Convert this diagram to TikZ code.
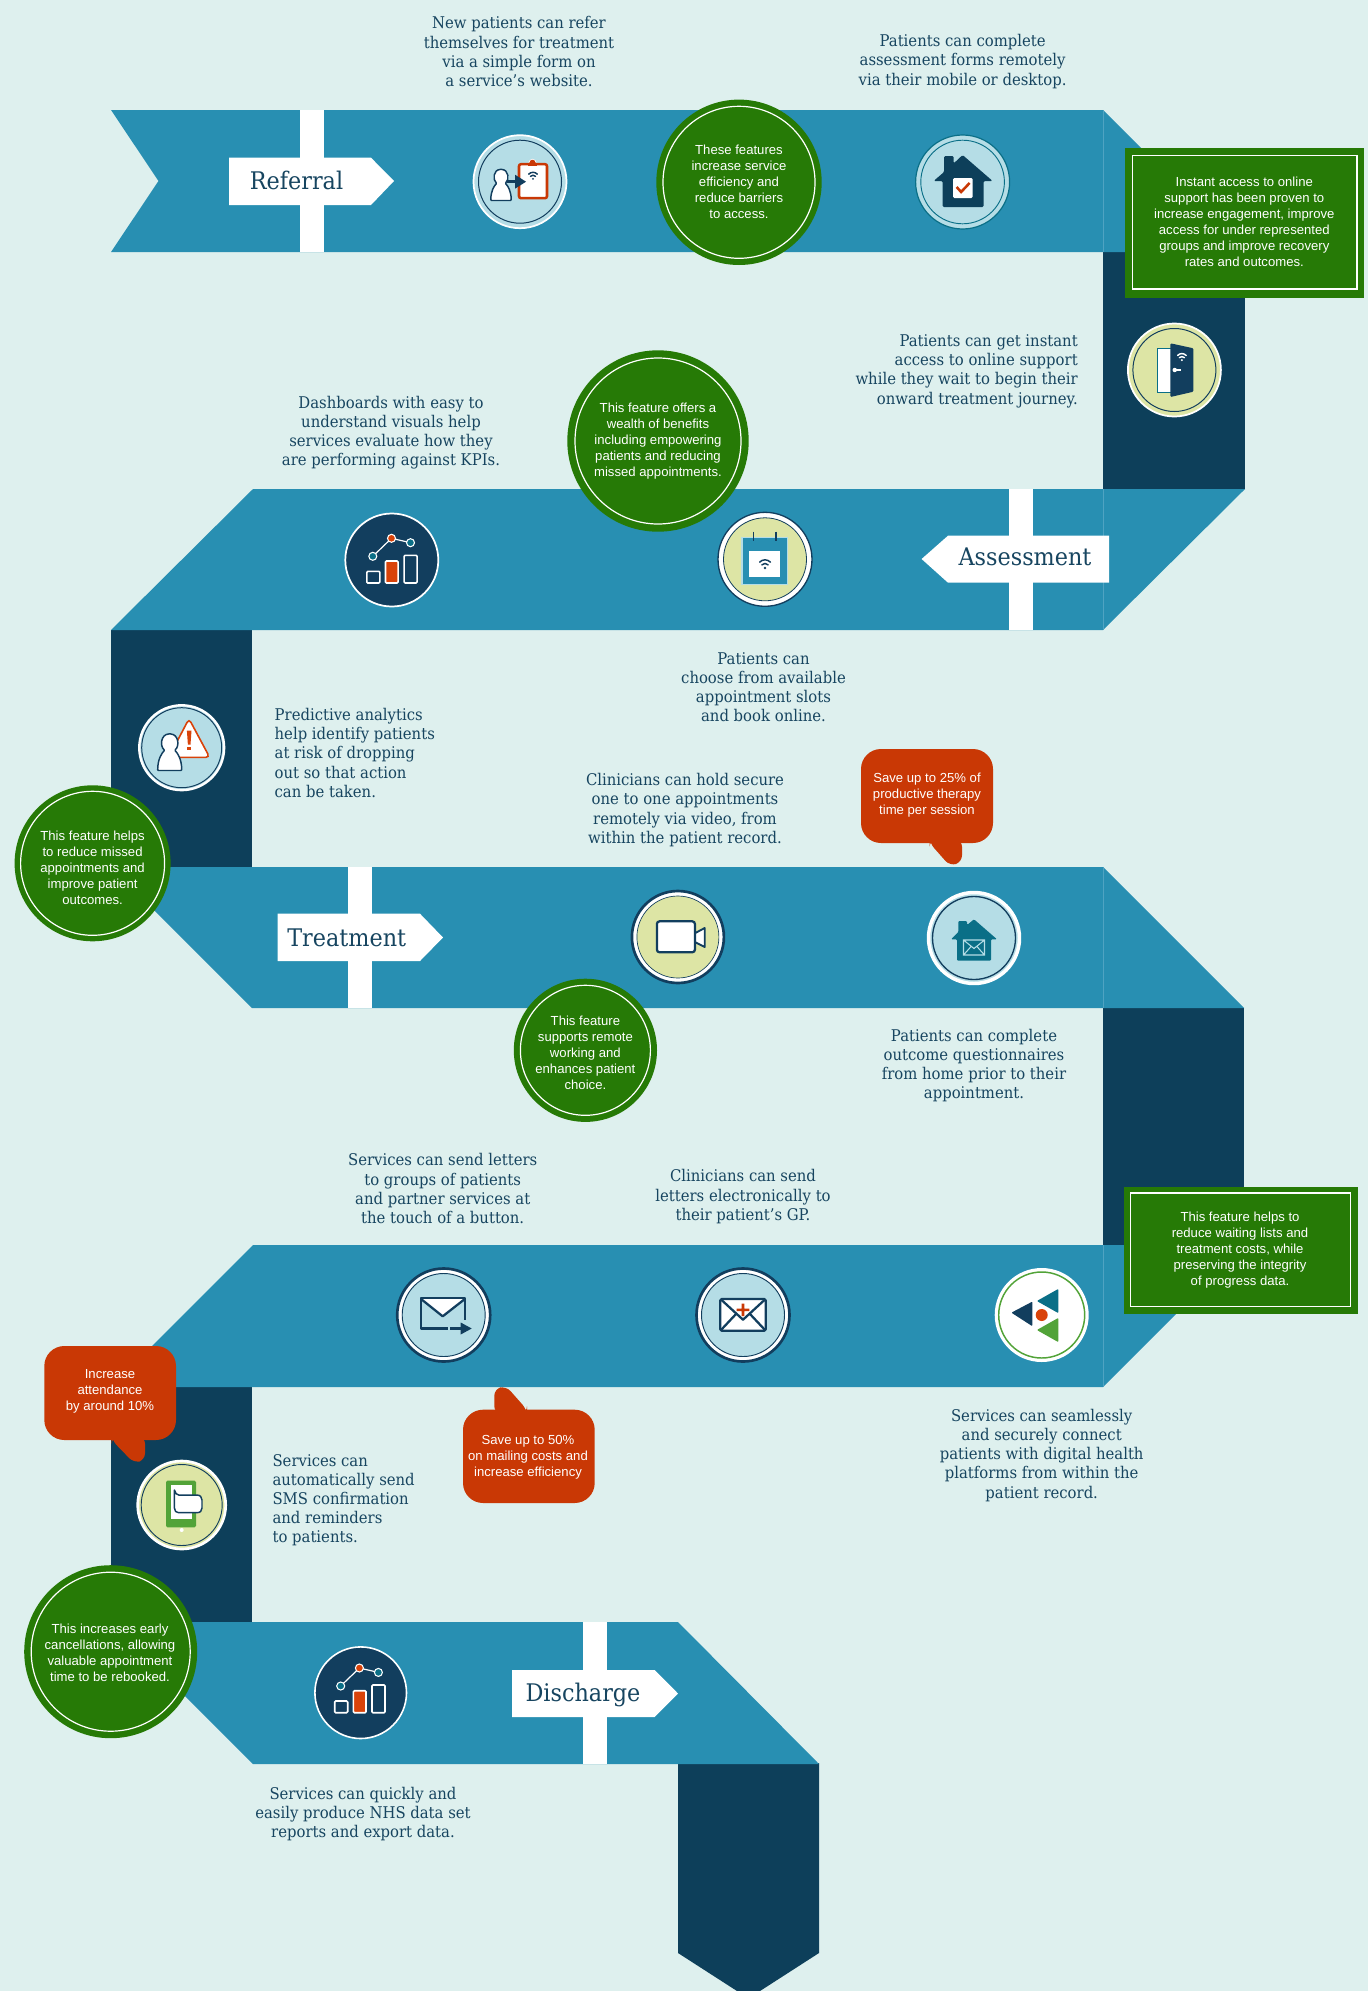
\documentclass[tikz,border=0pt]{standalone}
\usepackage{fontspec}
\setmainfont{Liberation Sans}
\newfontfamily\slabfont{DejaVu Serif}[FakeStretch=0.92]
\newfontfamily\sansfont{Liberation Sans}
\definecolor{bgc}{HTML}{DEF0EE}
\definecolor{bandc}{HTML}{288FB2}
\definecolor{seamc}{HTML}{4FA3C2}
\definecolor{darkc}{HTML}{0D3F5A}
\definecolor{navyc}{HTML}{123E5E}
\definecolor{greenc}{HTML}{267A06}
\definecolor{redc}{HTML}{C93805}
\definecolor{inkc}{HTML}{174560}
\definecolor{paleblue}{HTML}{B5DDE6}
\definecolor{paleyel}{HTML}{DDE5A5}
\definecolor{tealc}{HTML}{0A6F87}
\definecolor{leafc}{HTML}{52A338}
\definecolor{orangec}{HTML}{D9430A}
\tikzset{
  bandfill/.style={fill=bandc},
  darkfill/.style={fill=darkc},
  seam/.style={draw=seamc,line width=0.6pt},
  txt/.style={text=inkc,align=center,inner sep=0pt,yshift=-.1pt,font=\fontsize{12.1}{14.4}\selectfont\slabfont},
  txtl/.style={txt,align=left},
  txtr/.style={txt,align=right},
  sanstxt/.style={text=white,align=center,inner sep=0pt,yshift=-.2pt,font=\fontsize{9.85}{12}\selectfont\sansfont},
  titletxt/.style={text=inkc,inner sep=0pt,font=\fontsize{18.2}{22}\selectfont\slabfont},
  wring/.style={draw=white,line width=0.9pt},
  thin ink/.style={draw=navyc,line width=0.75pt},
  inkline/.style={draw=navyc,line width=1.7pt,line join=round},
}
\newcommand\wifi[4]{\begin{scope}[shift={(#1,#2)},scale=#3]
  \fill[#4] (0,3) circle[radius=1.5];
  \draw[#4,line width=1.1pt,line cap=round] (-3.5,-.5) .. controls (-1.5,-2.5) and (1.5,-2.5) .. (3.5,-.5);
  \draw[#4,line width=1.1pt,line cap=round] (-6,-3.5) .. controls (-2.5,-7) and (2.5,-7) .. (6,-3.5);
\end{scope}}
\newcommand\personshape[3]{\begin{scope}[shift={(#1,#2)},scale=#3]
  \path[fill=white,draw=navyc,line width=1.1pt,line join=round,rounded corners=0.6pt]
   (-12,23.3) .. controls (-12,12) and (-8,6) .. (-5,3) .. controls (-10,-1) and (-9,-13) .. (0,-13.3)
   .. controls (9,-13) and (10,-1) .. (5,3) .. controls (8,6) and (12,12) .. (12,23.3) -- cycle;
\end{scope}}
\newcommand\kpi[2]{\begin{scope}[shift={(#1,#2)}]
  \draw[white,line width=.9pt] (-20,-6.7) -- (-1.3,-24.7) -- (17.7,-20.3);
  \path[draw=white,line width=1.2pt,fill=navyc,rounded corners=.8pt] (-26,8.3) rectangle (-13,20);
  \path[draw=white,line width=1.2pt,fill=orangec,rounded corners=.8pt] (-7.3,-2) rectangle (5.3,20);
  \path[draw=white,line width=1.2pt,fill=navyc,rounded corners=.8pt] (11.3,-7.7) rectangle (24.3,20);
  \path[draw=white,line width=.8pt,fill=tealc] (-20,-6.7) circle[radius=4];
  \path[draw=white,line width=.8pt,fill=orangec] (-1.3,-24.7) circle[radius=4];
  \path[draw=white,line width=.8pt,fill=tealc] (17.7,-20.3) circle[radius=4];
\end{scope}}
\begin{document}
\begin{tikzpicture}[x=.75pt,y=-.75pt]
\fill[bgc] (0,0) rectangle (1368,1991);
\useasboundingbox (0,0) rectangle (1368,1991);
% --- ribbon ---
\fill[darkfill] (1103,252) rectangle (1245,489);
\fill[darkfill] (111,630) rectangle (252,867);
\fill[darkfill] (1103,1008) rectangle (1244,1245);
\fill[darkfill] (111,1387) rectangle (252,1623);
\fill[darkfill] (678,1763) -- (819,1763) -- (819,1953) -- (760,1991) -- (737,1991) -- (678,1953) -- cycle;
\fill[bandfill] (111,110) -- (1103,110) -- (1245,252) -- (111,252) -- (158.5,181) -- cycle;
\fill[bandfill] (253,489) -- (1245,489) -- (1103,630) -- (111,630) -- cycle;
\fill[bandfill] (111,867) -- (1103,867) -- (1244,1008) -- (252,1008) -- cycle;
\fill[bandfill] (253,1245) -- (1245,1245) -- (1103,1387) -- (111,1387) -- cycle;
\fill[bandfill] (111,1622) -- (678,1622) -- (819,1764) -- (253,1764) -- cycle;
\draw[seam] (1103.5,110) -- (1103.5,252);
\draw[seam] (1103.5,489) -- (1103.5,630);
\draw[seam] (1103.5,867) -- (1103.5,1008);
\draw[seam] (1103.5,1245) -- (1103.5,1387);
% --- posts and signs ---
\fill[white] (300,110) rectangle (324,252);
\fill[white] (229,157.7) -- (371,157.7) -- (394,181) -- (371,205) -- (229,205) -- cycle;
\node (referral) [titletxt] at (296.5,180) {Referral};
\fill[white] (1009,489) rectangle (1033,630);
\fill[white] (1109,535.7) -- (948,535.7) -- (921.6,559) -- (948,582.7) -- (1109,582.7) -- cycle;
\node (assessment) [titletxt] at (1025,557) {Assessment};
\fill[white] (348,867) rectangle (372,1008);
\fill[white] (277.5,913.7) -- (420,913.7) -- (443,937.5) -- (420,961) -- (277.5,961) -- cycle;
\node (treatment) [titletxt] at (346.7,938) {Treatment};
\fill[white] (583,1622) rectangle (607,1764);
\fill[white] (512,1670) -- (654.7,1670) -- (678,1693.5) -- (654.7,1717) -- (512,1717) -- cycle;
\node (discharge) [titletxt] at (583,1695) {Discharge};
% --- descriptions ---
\node (t1) [txt] at (519,51.5) {New patients can refer\\themselves for treatment\\via a simple form on\\a service’s website.};
\node (t2) [txt] at (962.6,61.3) {Patients can complete\\assessment forms remotely\\via their mobile or desktop.};
\node (t3) [txtr,anchor=east] at (1078,371) {Patients can get instant\\access to online support\\while they wait to begin their\\onward treatment journey.};
\node (t4) [txt] at (391,432.7) {Dashboards with easy to\\understand visuals help\\services evaluate how they\\are performing against KPIs.};
\node (t5) [txt] at (763.5,687) {Patients can\\choose from available\\appointment slots\\and book online.};
\node (t6) [txtl,anchor=west] at (274.4,752.7) {Predictive analytics\\help identify patients\\at risk of dropping\\out so that action\\can be taken.};
\node (t7) [txt] at (685,810) {Clinicians can hold secure\\one to one appointments\\remotely via video, from\\within the patient record.};
\node (t8) [txt] at (974,1065.5) {Patients can complete\\outcome questionnaires\\from home prior to their\\appointment.};
\node (t9) [txt] at (442.7,1188.5) {Services can send letters\\to groups of patients\\and partner services at\\the touch of a button.};
\node (t10) [txt] at (743,1196.5) {Clinicians can send\\letters electronically to\\their patient’s GP.};
\node (t11) [txt] at (1041.7,1455) {Services can seamlessly\\and securely connect\\patients with digital health\\platforms from within the\\patient record.};
\node (t12) [txtl,anchor=west] at (272.3,1500) {Services can\\automatically send\\SMS confirmation\\and reminders\\to patients.};
\node (t13) [txt] at (363,1814) {Services can quickly and\\easily produce NHS data set\\reports and export data.};
% --- icon: referral ---
\begin{scope}[shift={(520,181.7)}]
  \path[fill=paleblue,draw=white,line width=1.3pt] (0,0) circle[radius=46.5];
  \draw[thin ink] (0,0) circle[radius=41.5];
  \personshape{-19}{-1}{.85}
  \path[fill=redc,draw=white,line width=.5pt] (8.5,-18) .. controls (9,-24) and (16,-24) .. (16.5,-18) -- cycle;
  \path[fill=white,draw=redc,line width=1.9pt,rounded corners=1.5pt] (-1,-17.5) rectangle (27,16.5);
  \fill[redc] (8,-18.5) rectangle (17,-15.5);
  \fill[navyc] (-13,-1.5) rectangle (-3,1.5);
  \fill[navyc] (-5,-7) -- (6,0) -- (-5,7) -- cycle;
  \wifi{13}{-5}{.72}{navyc}
\end{scope}
% --- icon: home check ---
\begin{scope}[shift={(962.6,182)}]
  \path[fill=paleblue,draw=tealc,line width=.9pt] (0,0) circle[radius=47];
  \draw[draw=tealc,line width=.7pt] (0,0) circle[radius=41.8];
  \fill[darkc,rounded corners=1pt] (0,-27) -- (-9,-18.5) -- (-9,-26) -- (-18.5,-26) -- (-18.5,-10) -- (-29,-1) -- (-20,-1) -- (-20,25) -- (21,25) -- (21,-1) -- (30,-1) -- cycle;
  \fill[white,rounded corners=1pt] (-9.5,-4) rectangle (10,16);
  \draw[redc,line width=1.9pt] (-6,5) -- (-1.5,10) -- (7,1);
\end{scope}
% --- icon: door ---
\begin{scope}[shift={(1174.4,370)}]
  \path[fill=paleyel,draw=white,line width=1.3pt] (0,0) circle[radius=46.5];
  \draw[thin ink] (0,0) circle[radius=41.5];
  \path[fill=white,draw=tealc,line width=.8pt] (-17,-21.7) rectangle (-3,22.7);
  \fill[navyc,rounded corners=.8pt] (-4,-26.7) -- (19,-21.7) -- (19,21.7) -- (-4,27) -- cycle;
  \wifi{7.5}{-12}{.72}{white}
  \fill[white] (0.3,0) circle[radius=2.2];
  \fill[white] (0.3,-.8) rectangle (6.5,.8);
\end{scope}
% --- icon: KPI ---
\begin{scope}[shift={(391.8,560)}]
  \path[fill=navyc,draw=white,line width=1.3pt] (0,0) circle[radius=46.5];
  \kpi{1}{3}
\end{scope}
% --- icon: calendar ---
\begin{scope}[shift={(765,559.3)}]
  \path[fill=white,draw=navyc,line width=1pt] (0,0) circle[radius=47];
  \path[fill=paleyel,draw=navyc,line width=.6pt] (0,0) circle[radius=41.5];
  \path[fill=bandc,draw=paleblue,line width=1pt] (-23,-22) rectangle (22.7,25);
  \fill[white] (-16,-8.3) rectangle (15,18);
  \draw[navyc,line width=.9pt] (-11.5,-27.7) -- (-11.5,-18);
  \draw[navyc,line width=.9pt] (11,-27.7) -- (11,-18);
  \wifi{0}{6}{.9}{navyc}
\end{scope}
% --- icon: warning ---
\begin{scope}[shift={(181.7,747.7)}]
  \path[fill=paleblue,draw=white,line width=1.7pt] (0,0) circle[radius=42.5];
  \draw[thin ink] (0,0) circle[radius=40];
  \path[fill=white,draw=orangec,line width=1.2pt,rounded corners=3pt] (7.3,-29) -- (28,9.7) -- (-13,9.7) -- cycle;
  \fill[orangec] (5.2,-17) -- (9.8,-17) -- (8.8,-3) -- (6.2,-3) -- cycle;
  \fill[orangec] (5.6,-1) rectangle (9,2.6);
  \personshape{-12}{-.5}{1}
\end{scope}
% --- icon: video ---
\begin{scope}[shift={(677.9,937)}]
  \path[fill=white,draw=navyc,line width=2pt] (0,0) circle[radius=46];
  \path[fill=paleyel,draw=navyc,line width=.5pt] (0,0) circle[radius=41];
  \path[fill=white,draw=navyc,line width=1.7pt,rounded corners=2pt] (-21,-15.7) rectangle (17,15.3);
  \path[fill=white,draw=navyc,line width=1.4pt,line join=round] (17.4,-4) -- (26.8,-9) -- (26.8,10) -- (17.4,5.3) -- cycle;
\end{scope}
% --- icon: mail house ---
\begin{scope}[shift={(974,938)}]
  \path[fill=paleblue,draw=white,line width=2.6pt] (0,0) circle[radius=45.5];
  \draw[thin ink,line width=1pt] (0,0) circle[radius=41.5];
  \fill[tealc,rounded corners=.8pt] (0,-18.7) -- (-7,-13) -- (-7,-17) -- (-15.6,-17) -- (-15.6,-6) -- (-23,1.3) -- (-17,1.3) -- (-17,22.7) -- (17,22.7) -- (17,1.3) -- (23,1.3) -- cycle;
  \draw[paleblue,line width=.8pt] (-10.5,2) rectangle (10.5,17) (-10.5,2) -- (0,10.5) -- (10.5,2) (-10.5,17) -- (-2.5,8) (10.5,17) -- (2.5,8);
\end{scope}
% --- icon: mail arrow ---
\begin{scope}[shift={(443.7,1315)}]
  \path[fill=white,draw=navyc,line width=2pt] (0,0) circle[radius=46.5];
  \path[fill=paleblue,draw=navyc,line width=.7pt] (0,0) circle[radius=41.5];
  \fill[white] (-22,-16) -- (20,-16) -- (-1,1) -- cycle;
  \draw[inkline] (21.3,4.7) -- (21.3,-17) -- (-23,-17) -- (-23,13.5) -- (4,13.5);
  \draw[inkline] (-22,-15.5) -- (-1,1.3) -- (20.5,-15.5);
  \draw[inkline] (6.3,13.5) -- (18,13.5);
  \fill[navyc] (17,7.5) -- (28,13.5) -- (17,19.5) -- cycle;
\end{scope}
% --- icon: mail plus ---
\begin{scope}[shift={(743,1315)}]
  \path[fill=white,draw=navyc,line width=2pt] (0,0) circle[radius=46.5];
  \path[fill=paleblue,draw=navyc,line width=.7pt] (0,0) circle[radius=41.5];
  \path[fill=white,draw=navyc,line width=1.7pt,line join=round,rounded corners=1pt] (-22.7,-16) rectangle (22.7,15.7);
  \draw[inkline] (-22,-15.5) -- (0,4.7) -- (22,-15.5);
  \draw[inkline] (-22,15) -- (-7,-1);
  \draw[inkline] (22,15) -- (7,-1);
  \fill[redc] (-6.3,-6.5) rectangle (6.3,-4) (-1.3,-11.5) rectangle (1.3,1);
\end{scope}
% --- icon: linked platform ---
\begin{scope}[shift={(1041.7,1315)}]
  \fill[white] (0,0) circle[radius=47];
  \draw[leafc,line width=1.1pt] (0,0) circle[radius=43];
  \path[fill=navyc,draw=navyc,line width=1pt,line join=round] (-29,-2.3) -- (-10,-12.3) -- (-10,10) -- cycle;
  \path[fill=tealc,draw=tealc,line width=1pt,line join=round] (-3.5,-14) -- (16,-25) -- (16,-3) -- cycle;
  \path[fill=leafc,draw=leafc,line width=1pt,line join=round] (-3.5,15) -- (16,4) -- (16,26) -- cycle;
  \fill[orangec] (0,0) circle[radius=6];
\end{scope}
% --- icon: phone ---
\begin{scope}[shift={(181.7,1505)}]
  \path[fill=paleyel,draw=white,line width=2pt] (0,0) circle[radius=44];
  \draw[thin ink,line width=.7pt] (0,0) circle[radius=40.5];
  \fill[leafc,rounded corners=1pt] (-15.7,-24.3) rectangle (14.3,22.3);
  \fill[white] (-10.7,-20) rectangle (10.3,14);
  \path[fill=white,draw=navyc,line width=1.1pt,line join=round] (-7.3,-15) -- (-7.3,3) .. controls (-7.3,6) and (-5.5,7.7) .. (-3,7.7) -- (15,7.7) .. controls (18.5,7.7) and (20.3,6) .. (20.3,3) -- (20.3,-5) .. controls (20.3,-8) and (18.5,-10) .. (15,-10) -- (-3,-10) .. controls (-5,-10) and (-6.5,-12) .. (-7.3,-15) -- cycle;
  \fill[white] (0,25) circle[radius=2];
\end{scope}
% --- icon: KPI 2 ---
\begin{scope}[shift={(360.7,1692.7)}]
  \path[fill=navyc,draw=white,line width=1.2pt] (0,0) circle[radius=45.8];
  \kpi{0}{0}
\end{scope}
% --- green round notes ---
\fill[greenc] (739,182.3) circle[radius=82.7];
\draw[wring] (739,182.3) circle[radius=76];
\node (g1) [sanstxt] at (739,181.5) {These features\\increase service\\efficiency and\\reduce barriers\\to access.};
\fill[greenc] (658,441) circle[radius=90.7];
\draw[wring] (658,441) circle[radius=83];
\node (g2) [sanstxt] at (658,440.5) {This feature offers a\\wealth of benefits\\including empowering\\patients and reducing\\missed appointments.};
\fill[greenc] (92.6,863.3) circle[radius=78];
\draw[wring] (92.6,863.3) circle[radius=72];
\node (g3) [sanstxt] at (92.6,867.3) {This feature helps\\to reduce missed\\appointments and\\improve patient\\outcomes.};
\fill[greenc] (585.4,1050.3) circle[radius=71.6];
\draw[wring] (585.4,1050.3) circle[radius=65];
\node (g4) [sanstxt] at (585.4,1052.5) {This feature\\supports remote\\working and\\enhances patient\\choice.};
\fill[greenc] (110.7,1651.7) circle[radius=86.5];
\draw[wring] (110.7,1651.7) circle[radius=79.5];
\node (g5) [sanstxt] at (110,1652.5) {This increases early\\cancellations, allowing\\valuable appointment\\time to be rebooked.};
% --- green boxes ---
\fill[greenc] (1125,148) rectangle (1364,298);
\draw[wring] (1132.5,155.5) rectangle (1357,289);
\node (b1) [sanstxt] at (1244.3,221.7) {Instant access to online\\support has been proven to\\increase engagement, improve\\access for under represented\\groups and improve recovery\\rates and outcomes.};
\fill[greenc] (1124,1187) rectangle (1358,1314);
\draw[wring] (1130.7,1193) rectangle (1350.7,1306.7);
\node (b2) [sanstxt] at (1240,1249.5) {This feature helps to\\reduce waiting lists and\\treatment costs, while\\preserving the integrity\\of progress data.};
% --- red callouts ---
\fill[redc,rounded corners=15pt] (861,749) rectangle (993,843);
\fill[redc,rounded corners=5pt] (929.6,840) -- (929.6,843) -- (950,866) -- (962,862) -- (962,840) -- cycle;
\node (r1) [sanstxt] at (927,794.7) {Save up to 25\% of\\productive therapy\\time per session};
\fill[redc,rounded corners=15pt] (463,1409.7) rectangle (594.7,1503);
\fill[redc,rounded corners=5pt] (494.3,1413) -- (494.3,1389) -- (506,1386) -- (527,1409.7) -- (527,1413) -- cycle;
\node (r2) [sanstxt] at (528,1456.7) {Save up to 50\%\\on mailing costs and\\increase efficiency};
\fill[redc,rounded corners=15pt] (44.3,1346) rectangle (176,1440);
\fill[redc,rounded corners=5pt] (111.7,1437) -- (111.7,1440) -- (134,1463) -- (145,1460) -- (145,1437) -- cycle;
\node (r3) [sanstxt] at (110,1390.7) {Increase\\attendance\\by around 10\%};
\end{tikzpicture}
\end{document}
